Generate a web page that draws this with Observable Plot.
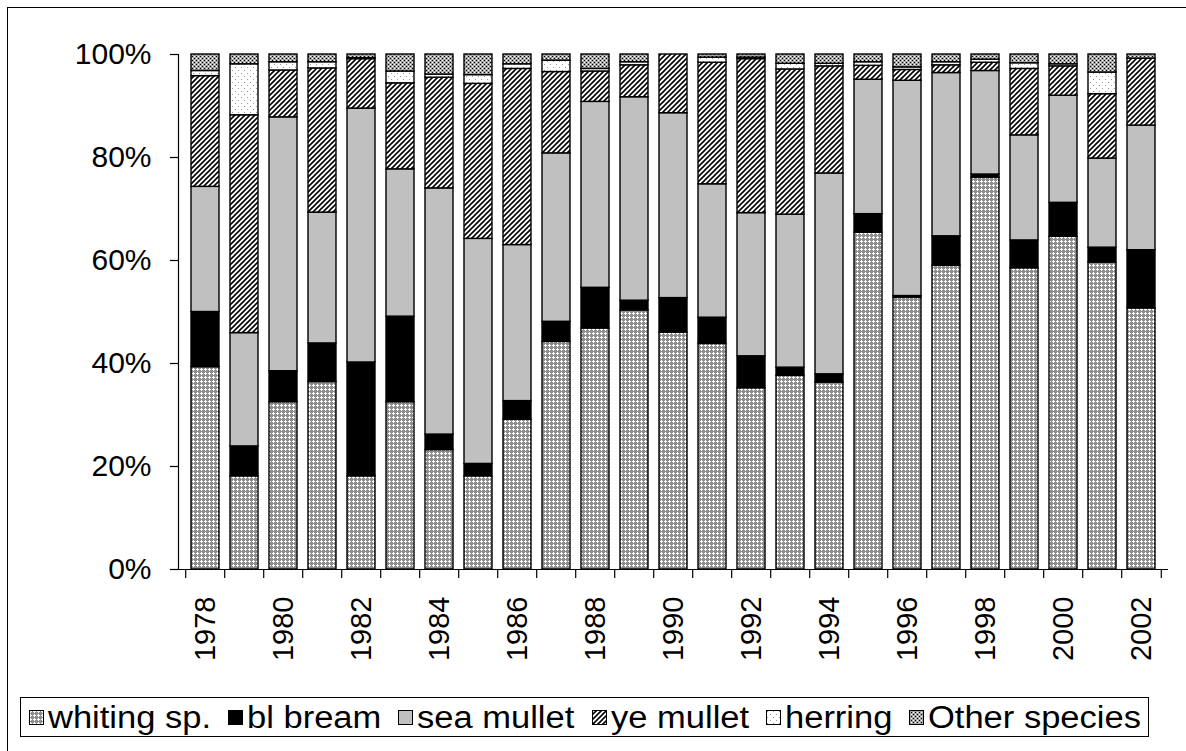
<!DOCTYPE html>
<html><head><meta charset="utf-8">
<script src="https://cdn.jsdelivr.net/npm/d3@7"></script>
<script src="https://cdn.jsdelivr.net/npm/@observablehq/plot@0.6"></script>
<style>
body{margin:0;background:#fff;font-family:"Liberation Sans",Arial,sans-serif;}
#wrap{position:relative;width:1186px;height:751px;overflow:hidden;background:#fff;}
#frame{position:absolute;left:7px;top:7px;width:1300px;height:900px;border-top:1.5px solid #000;border-left:1.5px solid #000;}
#chart{position:absolute;left:0;top:0;}
#legend{position:absolute;left:20px;top:697px;width:1129px;height:40px;border:1.3px solid #000;box-sizing:border-box;background:#fff;}
.sw{position:absolute;top:710px;}
.lt{position:absolute;top:700px;font-size:31px;line-height:36px;white-space:nowrap;color:#000;transform-origin:0 50%;display:inline-block;}
</style>
</head>
<body>
<svg width="0" height="0" style="position:absolute">
<defs>
<pattern id="p-whiting" width="4" height="4" patternUnits="userSpaceOnUse">
  <rect width="4" height="4" fill="#8e8e8e"/>
  <rect x="1" y="0" width="1" height="3" fill="#fff"/>
  <rect x="0" y="1" width="3" height="1" fill="#fff"/>
</pattern>
<pattern id="p-ye" width="5" height="5" patternUnits="userSpaceOnUse">
  <rect width="5" height="5" fill="#fff"/>
  <path d="M-1,1 L1,-1 M0,5 L5,0 M4,6 L6,4" stroke="#000" stroke-width="1.6"/>
</pattern>
<pattern id="p-herring" width="6" height="6" patternUnits="userSpaceOnUse">
  <rect width="6" height="6" fill="#fff"/>
  <rect x="1" y="1" width="1" height="1" fill="#9a9a9a"/>
  <rect x="4" y="4" width="1" height="1" fill="#9a9a9a"/>
</pattern>
<pattern id="p-other" width="4" height="4" patternUnits="userSpaceOnUse">
  <rect width="4" height="4" fill="#a4a4a4"/>
  <rect x="0" y="0" width="1" height="1" fill="#000"/>
  <rect x="2" y="2" width="1" height="1" fill="#000"/>
  <rect x="2" y="0" width="1" height="1" fill="#fff"/>
  <rect x="0" y="2" width="1" height="1" fill="#fff"/>
</pattern>
</defs>
</svg>
<div id="wrap">
  <div id="frame"></div>
  <div id="chart"></div>
  <div id="legend"></div>
</div>
<script>
const years = ["1978","1979","1980","1981","1982","1983","1984","1985","1986","1987","1988","1989","1990","1991","1992","1993","1994","1995","1996","1997","1998","1999","2000","2001","2002"];
const species = ["whiting sp.","bl bream","sea mullet","ye mullet","herring","Other species"];
const whiting   = [39.3,18.1,32.5,36.4,18.1,32.5,23.2,18.1,29.1,44.2,46.8,50.3,46.0,43.8,35.2,37.6,36.3,65.4,52.8,59.0,76.1,58.5,64.6,59.6,50.7];
const blBream   = [10.7, 5.8, 6.0, 7.5,22.1,16.6, 3.0, 2.4, 3.6, 3.9, 7.9, 1.9, 6.7, 5.1, 6.2, 1.6, 1.6, 3.6, 0.3, 5.7, 0.6, 5.4, 6.6, 2.9,11.3];
const seaMullet = [24.3,22.0,49.3,25.4,49.3,28.6,47.8,43.7,30.3,32.7,36.1,39.5,35.9,25.9,27.8,29.7,39.0,26.1,41.8,31.7,20.1,20.4,20.8,17.3,24.2];
const yeMullet  = [21.5,42.3, 9.1,28.0, 9.6,16.7,21.5,30.1,34.2,15.8, 5.9, 6.2,11.4,23.6,29.9,28.2,20.8, 2.7, 2.1, 1.5, 1.6,12.9, 5.7,12.5,13.0];
const herring   = [ 1.0, 9.9, 1.6, 1.2, 0.2, 2.3, 0.6, 1.7, 0.9, 2.2, 0.5, 0.6, 0.0, 1.0, 0.3, 1.1, 0.5, 0.7, 0.5, 0.6, 0.6, 1.1, 0.4, 4.2, 0.0];
const other     = [ 3.2, 1.9, 1.5, 1.5, 0.7, 3.3, 3.9, 4.0, 1.9, 1.2, 2.8, 1.5, 0.0, 0.6, 0.6, 1.8, 1.8, 1.5, 2.5, 1.5, 1.0, 1.7, 1.9, 3.5, 0.8];
const yTicks = [0, 0.2, 0.4, 0.6, 0.8, 1];
const fills = ["url(#p-whiting)","#000000","#c0c0c0","url(#p-ye)","url(#p-herring)","url(#p-other)"];

const seriesValues = [whiting, blBream, seaMullet, yeMullet, herring, other];
const table = [];
years.forEach((yr, i) => {
  species.forEach((sp, k) => table.push({year: yr, species: sp, value: seriesValues[k][i]}));
});

const W = 1186, H = 690, mL = 178, mR = 18, mT = 54, mB = 121;
const xs = Plot.scale({x: {type: "band", domain: years, range: [mL, W - mR], paddingInner: 0.27, paddingOuter: 0.135}});
const step = xs.step;
const tickLen = 9 / (H - mT - mB);

const chart = Plot.plot({
  width: W, height: H,
  marginLeft: mL, marginRight: mR, marginTop: mT, marginBottom: mB,
  style: {fontFamily: "'Liberation Sans', Arial, sans-serif", color: "#000", background: "transparent", overflow: "visible"},
  x: {type: "band", domain: years, paddingInner: 0.27, paddingOuter: 0.135, label: null},
  y: {domain: [0, 1], label: null},
  color: {domain: species, range: fills},
  marks: [
    Plot.barY(table, {x: "year", y: "value", fill: "species", offset: "normalize", stroke: "#000", strokeWidth: 1.4}),
    Plot.frame({anchor: "left", stroke: "#000", strokeWidth: 1.2}),
    Plot.ruleY([0], {stroke: "#000", strokeWidth: 1.2}),
    Plot.ruleX(years, {x: d => d, y1: 0, y2: -tickLen, dx: -step / 2, stroke: "#000", strokeWidth: 1.2}),
    Plot.ruleX([years[years.length - 1]], {x: d => d, y1: 0, y2: -tickLen, dx: step / 2, stroke: "#000", strokeWidth: 1.2}),
    Plot.axisY({ticks: yTicks, tickFormat: d3.format(".0%"), tickSize: 8, tickPadding: 19, fontSize: 30, label: null, strokeWidth: 1.2}),
    Plot.axisX({ticks: years.filter((d, i) => i % 2 === 0), tickSize: 0, tickRotate: -90, tickPadding: 27, fontSize: 29, label: null})
  ]
});
document.getElementById("chart").appendChild(chart);

// legend: swatch + text, laid out left to right with a common horizontal stretch
const wrap = document.getElementById("wrap");
const startX = 29, endX = 1141, swW = 15, swGap = 4, itemGap = 17;
const spans = species.map((sp) => {
  const t = document.createElement("span");
  t.className = "lt";
  t.textContent = sp;
  wrap.appendChild(t);
  return t;
});
const widths = spans.map(t => t.getBoundingClientRect().width);
const totalText = widths.reduce((a, b) => a + b, 0);
const fixed = species.length * (swW + swGap) + (species.length - 1) * itemGap;
const s = (endX - startX - fixed) / totalText;
let cx = startX;
species.forEach((sp, k) => {
  const sw = document.createElementNS("http://www.w3.org/2000/svg", "svg");
  sw.setAttribute("width", swW); sw.setAttribute("height", swW);
  sw.setAttribute("class", "sw");
  sw.style.left = cx + "px";
  sw.innerHTML = `<rect x="0.5" y="0.5" width="${swW - 1}" height="${swW - 1}" fill="${fills[k]}" stroke="#000" stroke-width="1"/>`;
  wrap.appendChild(sw);
  cx += swW + swGap;
  const t = spans[k];
  t.style.left = cx + "px";
  t.style.transform = `scaleX(${s})`;
  cx += widths[k] * s + itemGap;
});
</script>
</body></html>
